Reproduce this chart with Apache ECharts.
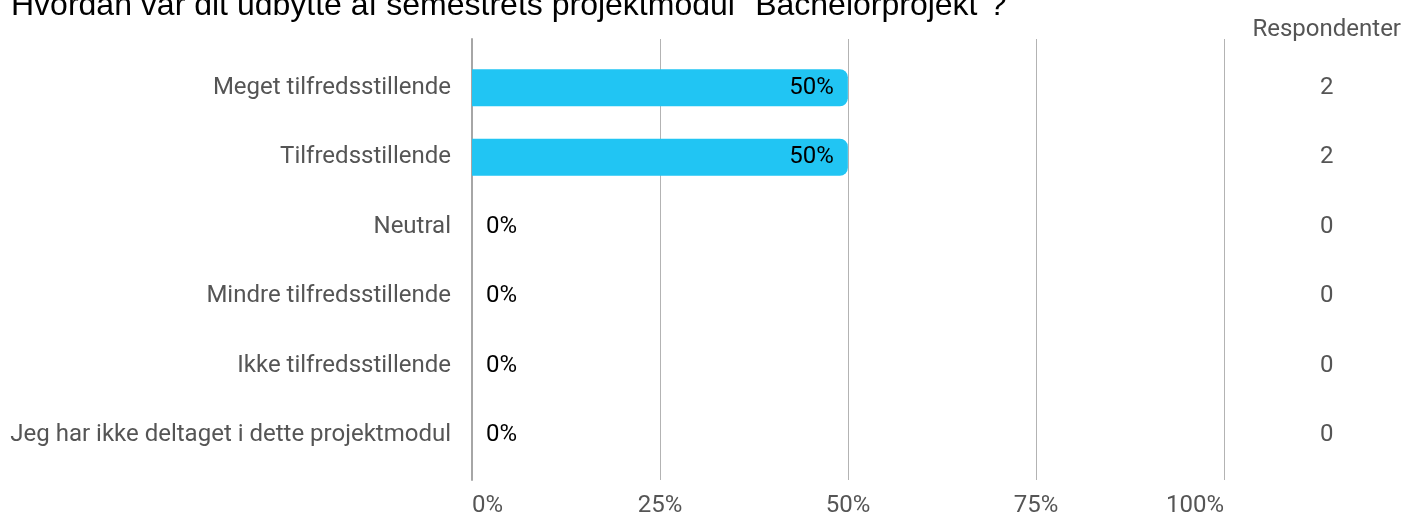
<!DOCTYPE html>
<html>
<head>
<meta charset="utf-8">
<script src="https://cdn.jsdelivr.net/npm/echarts@6/dist/echarts.min.js"></script>
<style>
  html, body { margin: 0; padding: 0; background: #fff; }
  #chart { width: 1404px; height: 518px; }
</style>
</head>
<body>
<div id="chart"></div>
<script>
const categories = [
  'Meget tilfredsstillende',
  'Tilfredsstillende',
  'Neutral',
  'Mindre tilfredsstillende',
  'Ikke tilfredsstillende',
  'Jeg har ikke deltaget i dette projektmodul'
];
const percents = [50, 50, 0, 0, 0, 0];
const respondents = [2, 2, 0, 0, 0, 0];
const xTicks = [0, 25, 50, 75, 100];

const chart = echarts.init(document.getElementById('chart'));

const labelColor = '#555555';
const font = 'Roboto';
const fs = 24;
// nudge text down a little so it sits centred on the rows
const pad = [4, 0, 0, 0];

const option = {
  animation: false,
  title: {
    text: 'Hvordan var dit udbytte af semestrets projektmodul "Bachelorprojekt"?',
    left: 6,
    top: -15,
    textStyle: { fontFamily: 'Liberation Sans', fontWeight: 'normal', fontSize: 32, color: '#000' }
  },
  grid: [
    { left: 472, right: 180, top: 53, height: 417 },
    { left: 472, right: 180, top: 39, height: 444 }
  ],
  xAxis: [
    {
      gridIndex: 0, type: 'value', min: 0, max: 100, interval: 25,
      show: false
    },
    {
      gridIndex: 1, type: 'value', min: 0, max: 100, interval: 25,
      axisLine: { show: false },
      axisTick: { show: false },
      splitLine: { show: true, lineStyle: { color: '#b3b3b3', width: 1 } },
      axisLabel: {
        margin: 14, color: labelColor, fontFamily: font, fontSize: fs,
        customValues: xTicks,
        alignMinLabel: 'left', alignMaxLabel: 'right',
        formatter: v => v + '%'
      }
    }
  ],
  yAxis: [
    {
      gridIndex: 0, type: 'category', inverse: true, data: categories,
      axisLine: { show: false }, axisTick: { show: false },
      axisLabel: { margin: 21, color: labelColor, fontFamily: font, fontSize: fs, padding: pad }
    },
    {
      gridIndex: 0, type: 'category', inverse: true, data: respondents,
      position: 'right', offset: 103,
      name: 'Respondenter', nameLocation: 'start', nameGap: 11,
      nameTextStyle: { color: labelColor, fontFamily: font, fontSize: fs, align: 'center' },
      axisLine: { show: false }, axisTick: { show: false },
      axisLabel: { margin: 0, align: 'center', color: labelColor, fontFamily: font, fontSize: fs, padding: pad }
    },
    {
      gridIndex: 1, type: 'value', min: 0, max: 1,
      axisLine: { show: true, lineStyle: { color: '#a6a6a6', width: 2 } },
      axisTick: { show: false }, axisLabel: { show: false }, splitLine: { show: false }
    }
  ],
  series: [
    {
      type: 'bar',
      xAxisIndex: 0, yAxisIndex: 0,
      barWidth: 37,
      data: percents.map(v => ({
        value: v,
        label: v > 0
          ? { position: 'insideRight', distance: 14 }
          : { position: 'right', distance: 14 }
      })),
      itemStyle: { color: '#21C5F3', borderRadius: [0, 8, 8, 0] },
      label: {
        show: true, color: '#000', fontFamily: font, fontSize: fs, padding: pad,
        formatter: p => p.value + '%'
      }
    }
  ]
};

chart.setOption(option);
</script>
</body>
</html>
